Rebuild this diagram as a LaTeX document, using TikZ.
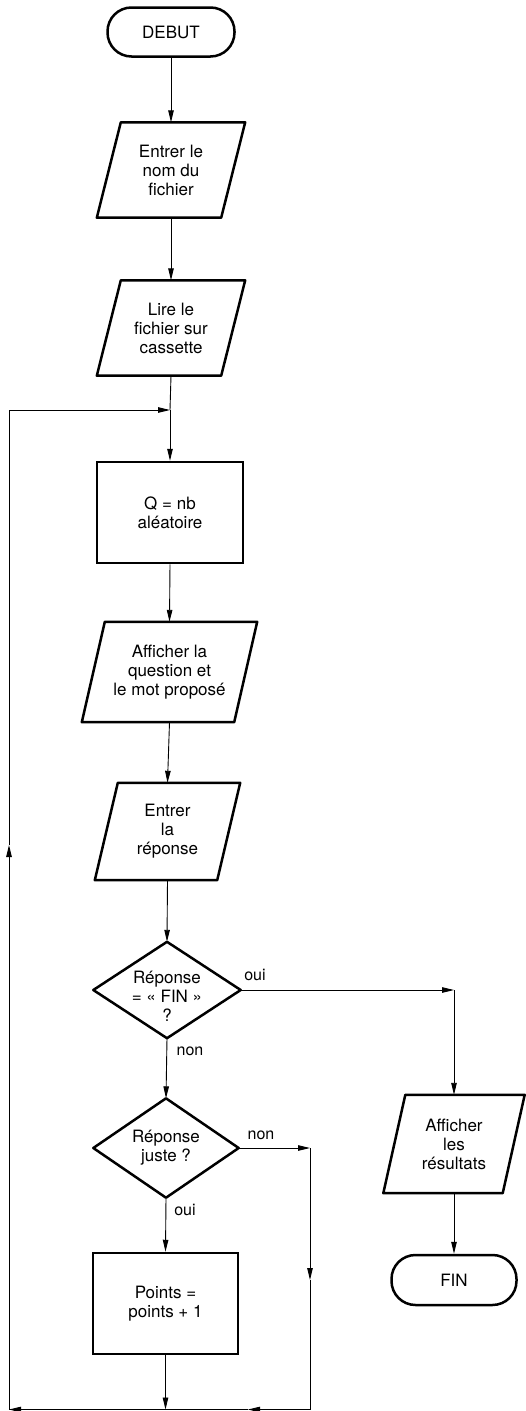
\documentclass[tikz,border=0pt]{standalone}
\usepackage{fontspec}
\setmainfont{TeX Gyre Heros}
\usetikzlibrary{calc,arrows.meta}
\tikzset{
  base/.style={rectangle, align=center, inner sep=0pt, font=\fontsize{17}{19}\selectfont},
  proc/.style={base, draw, line width=2.5pt},
  term/.style={base, draw, line width=2.5pt, rounded corners=24pt},
  outline/.style={line width=2.5pt, line join=round},
  conn/.style={line width=0.9pt, -{Triangle[length=12pt,width=5.5pt]}},
  plain/.style={line width=0.9pt},
  lbl/.style={font=\fontsize{16}{19}\selectfont, inner sep=0pt},
}
\begin{document}
\begin{tikzpicture}[x=1pt,y=-1pt]
\useasboundingbox (0,0) rectangle (525,1411);

% nodes
\node[term, minimum width=127pt, minimum height=49pt] (debut) at (171,32) {DEBUT};
\node[base, minimum width=148pt, minimum height=95pt] (in1) at (171,170) {Entrer le\\nom du\\fichier};
\node[base, minimum width=148pt, minimum height=95pt] (in2) at (171,328) {Lire le\\fichier sur\\cassette};
\node[proc, minimum width=146pt, minimum height=101pt] (q) at (170,512.5) {Q = nb\\aléatoire};
\node[base, minimum width=175pt, minimum height=100pt] (aff) at (169.5,672) {Afficher la\\question et\\le mot proposé};
\node[base, minimum width=145pt, minimum height=97pt] (rep) at (167.5,831.5) {Entrer\\la\\réponse};
\node[base, minimum width=147pt, minimum height=96pt] (d1) at (167,990) {};
\node[base] (d1t) at (167,996) {Réponse\\= « FIN »\\?};
\node[base, minimum width=145pt, minimum height=99pt] (d2) at (166,1148) {Réponse\\juste ?};
\node[proc, minimum width=145pt, minimum height=101pt] (pts) at (165.5,1303.5) {Points =\\points + 1};
\node[base, minimum width=141pt, minimum height=98pt] (res) at (454,1144) {Afficher\\les\\résultats};
\node[term, minimum width=125pt, minimum height=50pt] (fin) at (454,1280) {FIN};

% outlines of parallelograms and diamonds
\foreach \n/\s in {in1/24, in2/24, aff/23, rep/23, res/22}
  \draw[outline] ($(\n.north west)+(\s,0)$) -- (\n.north east)
    -- ($(\n.south east)-(\s,0)$) -- (\n.south west) -- cycle;
\foreach \n in {d1,d2}
  \draw[outline] (\n.north) -- (\n.east) -- (\n.south) -- (\n.west) -- cycle;

% labels
\node[lbl] (l1) at (255,975) {oui};
\node[lbl] (l2) at (190,1051) {non};
\node[lbl] (l3) at (261,1135) {non};
\node[lbl] (l4) at (185,1210) {oui};

% helper coordinates
\coordinate (j) at (170,410);
\coordinate (c1) at (454,990);
\coordinate (c2) at (310,1148);
\coordinate (c3) at (310,1280);
\coordinate (c4) at (310,1409.5);
\coordinate (c5) at (165.5,1409.5);
\coordinate (c6) at (248,1409.5);
\coordinate (c7) at (9,1409.5);
\coordinate (c8) at (9,845);
\coordinate (c9) at (9,410);

% connectors
\draw[conn] (debut.south) -- (in1.north);
\draw[conn] (in1.south) -- (in2.north);
\draw[plain] (in2.south) -- (j);
\draw[conn] (j) -- (q.north);
\draw[conn] (q.south) -- (aff.north);
\draw[conn] (aff.south) -- (rep.north);
\draw[conn] (rep.south) -- (d1.north);
\draw[conn] (d1.south) -- (d2.north);
\draw[conn] (d1.east) -- (c1);
\draw[conn] (c1) -- (res.north);
\draw[conn] (res.south) -- (fin.north);
\draw[conn] (d2.south) -- (pts.north);
\draw[conn] (d2.east) -- (c2);
\draw[conn] (c2) -- (c3);
\draw[plain] (c3) -- (c4);
\draw[conn] (pts.south) -- (c5);
\draw[conn] (c4) -- (c6);
\draw[conn] (c6) -- (c7);
\draw[conn] (c7) -- (c8);
\draw[plain] (c8) -- (c9);
\draw[conn] (c9) -- (j);
\end{tikzpicture}
\end{document}
